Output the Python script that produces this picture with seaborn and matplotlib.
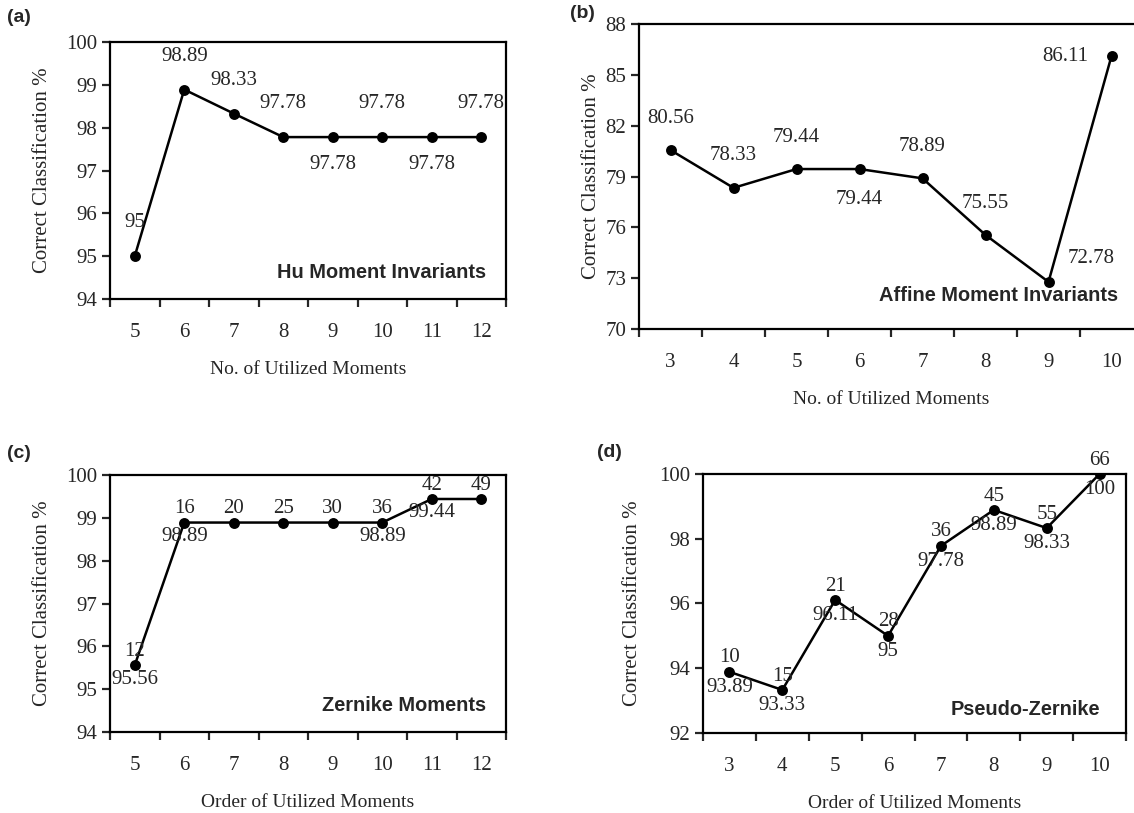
import numpy as np
import pandas as pd
import seaborn as sns
import matplotlib.pyplot as plt

# panel (a) Hu moment invariants
hu_n = ['5', '6', '7', '8', '9', '10', '11', '12']
hu_acc = [95, 98.89, 98.33, 97.78, 97.78, 97.78, 97.78, 97.78]
# panel (b) affine moment invariants
affine_n = ['3', '4', '5', '6', '7', '8', '9', '10']
affine_acc = [80.56, 78.33, 79.44, 79.44, 78.89, 75.55, 72.78, 86.11]
# panel (c) Zernike moments
zer_order = ['5', '6', '7', '8', '9', '10', '11', '12']
zer_acc = [95.56, 98.89, 98.89, 98.89, 98.89, 98.89, 99.44, 99.44]
zer_count = [12, 16, 20, 25, 30, 36, 42, 49]
# panel (d) pseudo-Zernike moments
pz_order = ['3', '4', '5', '6', '7', '8', '9', '10']
pz_acc = [93.89, 93.33, 96.11, 95, 97.78, 98.89, 98.33, 100]
pz_count = [10, 15, 21, 28, 36, 45, 55, 66]

sns.set_theme(style='white')
plt.rcParams['font.family'] = ['Liberation Serif', 'DejaVu Serif']
plt.rcParams['axes.linewidth'] = 1.6

SERIF = 15
W, H = 1134, 813
fig = plt.figure(figsize=(W / 100, H / 100), dpi=100)


def add_axes(l, r, t, b):
    return fig.add_axes([l / W, 1 - b / H, (r - l) / W, (b - t) / H])


def draw_panel(ax, cats, vals, ylim, ystep, xlabel, title, tx, ty):
    df = pd.DataFrame({'x': cats, 'y': vals})
    sns.pointplot(data=df, x='x', y='y', order=cats, color='black',
                  markersize=6.5, linewidth=1.8, errorbar=None, ax=ax)
    n = len(cats)
    ax.set_xlim(-0.5, n - 0.5)
    ax.set_ylim(*ylim)
    ax.set_yticks(np.arange(ylim[0], ylim[1] + 0.01, ystep))
    ax.set_xticks(np.arange(-0.5, n), [''] * (n + 1))
    ax.set_xticks(range(n), cats, minor=True)
    ax.tick_params(axis='x', which='major', direction='out', length=6,
                   width=1.6, bottom=True)
    ax.tick_params(axis='x', which='minor', length=0, pad=17,
                   labelsize=SERIF)
    ax.tick_params(axis='y', direction='out', length=6, width=1.6,
                   left=True, labelsize=SERIF, pad=3)
    for s in ax.spines.values():
        s.set_color('black')
        s.set_linewidth(1.6)
    ax.set_xlabel(xlabel, fontsize=14, labelpad=14)
    ax.set_ylabel('Correct Classification %', fontsize=15)
    ax.text(tx, ty, title, transform=ax.transAxes, ha='right',
            va='center', fontsize=14.4, fontweight='bold',
            family='Liberation Sans')


def label(ax, i, y, txt, dx, dy, ha='center'):
    ax.annotate(txt, (i, y), xytext=(dx, dy), textcoords='offset points',
                ha=ha, va='center', fontsize=SERIF)


# (a)
ax_a = add_axes(110, 506, 42, 299)
draw_panel(ax_a, hu_n, hu_acc, (94, 100), 1, 'No. of Utilized Moments',
           'Hu Moment Invariants', 0.95, 0.105)
for i, v in enumerate(hu_acc):
    below = i in (4, 6)
    label(ax_a, i, v, '{:g}'.format(v), 0, -20 if below else 24)
ax_a.yaxis.set_label_coords(-0.146, 0.5)

# (b) - the right border runs just past the picture edge
ax_b = add_axes(639, 1143, 24, 329)
draw_panel(ax_b, affine_n, affine_acc, (70, 88), 3, 'No. of Utilized Moments',
           'Affine Moment Invariants', 0.95, 0.111)
for i, v in enumerate(affine_acc):
    if i == 3:
        label(ax_b, i, v, '{:g}'.format(v), 0, -22)
    elif i == 6:
        label(ax_b, i, v, '{:g}'.format(v), 14, 17, ha='left')
    elif i == 7:
        label(ax_b, i, v, '{:g}'.format(v), -17, 0, ha='right')
    else:
        label(ax_b, i, v, '{:g}'.format(v), 0, 23)
ax_b.yaxis.set_label_coords(-0.075, 0.5)

# (c)
ax_c = add_axes(110, 506, 475, 732)
draw_panel(ax_c, zer_order, zer_acc, (94, 100), 1, 'Order of Utilized Moments',
           'Zernike Moments', 0.95, 0.105)
for i, (v, c) in enumerate(zip(zer_acc, zer_count)):
    label(ax_c, i, v, str(c), 0, 10)
    if i in (0, 1, 5, 6):
        label(ax_c, i, v, '{:g}'.format(v), 0, -10)
ax_c.yaxis.set_label_coords(-0.146, 0.5)

# (d)
ax_d = add_axes(703, 1126, 474, 733)
draw_panel(ax_d, pz_order, pz_acc, (92, 100), 2, 'Order of Utilized Moments',
           'Pseudo-Zernike', 0.94, 0.09)
for i, (v, c) in enumerate(zip(pz_acc, pz_count)):
    label(ax_d, i, v, str(c), 0, 10)
    label(ax_d, i, v, '{:g}'.format(v), 0, -11)
ax_d.yaxis.set_label_coords(-0.144, 0.5)

# panel letters
for x, y, s in [(7, 18, '(a)'), (570, 14, '(b)'), (7, 453, '(c)'),
                (597, 452, '(d)')]:
    fig.text(x / W, 1 - y / H, s, fontsize=14, fontweight='bold',
             family='Liberation Sans', va='center')

fig.savefig('out.png', dpi=100, facecolor='white')
